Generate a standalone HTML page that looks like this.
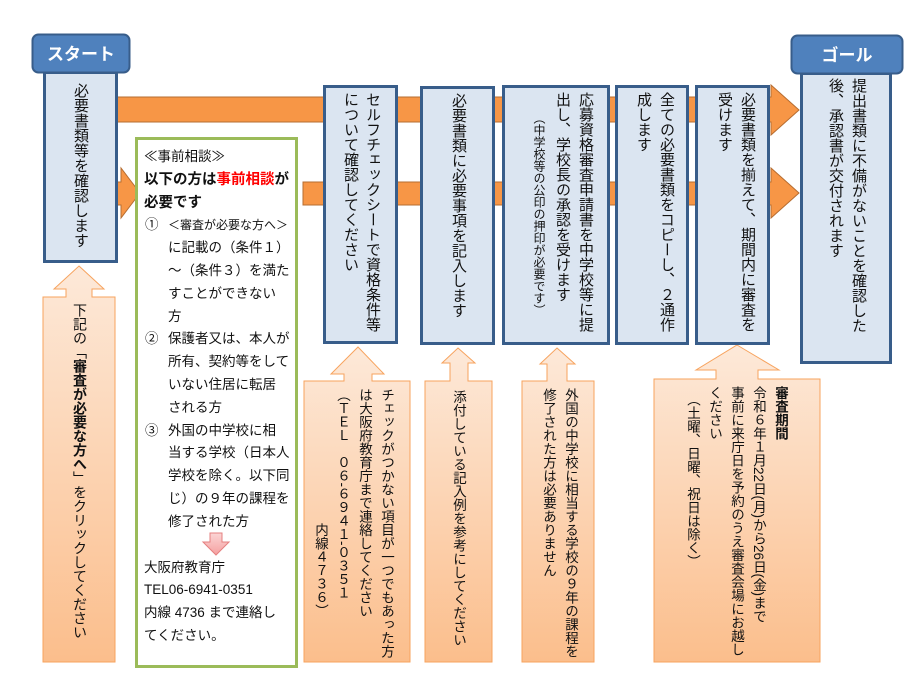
<!DOCTYPE html>
<html><head><meta charset="utf-8"><style>
body{margin:0;width:922px;height:691px;background:#fff;position:relative;overflow:hidden;font-family:"Liberation Sans","Noto Sans CJK JP",sans-serif;color:#111}
.v{position:absolute;writing-mode:vertical-rl;font-size:15px;line-height:22px;white-space:nowrap}
.s{font-size:13.5px;line-height:22px}
.g{position:absolute;left:144px;top:146px;font-size:13.5px;line-height:22.8px;white-space:nowrap}
.g .i{padding-left:24px;position:relative}
.g .n{position:absolute;left:1px}
</style></head><body>
<svg width="922" height="691" style="position:absolute;left:0;top:0">
<defs>
<linearGradient id="og" x1="0" y1="0" x2="0" y2="1"><stop offset="0" stop-color="#fde9d9"/><stop offset="1" stop-color="#fbbe8c"/></linearGradient>
<linearGradient id="pk" x1="0" y1="0" x2="0" y2="1"><stop offset="0" stop-color="#fbd5d5"/><stop offset="1" stop-color="#f5a0a0"/></linearGradient>
</defs>
<polygon points="117,97 771,97 771,85 799,110 771,135 771,122 117,122" fill="#f79646" stroke="#b66d31" stroke-width="1"/>
<polygon points="117,182 121,182 121,168 140,193 121,218 121,205 117,205" fill="#f79646" stroke="#b66d31" stroke-width="1"/>
<polygon points="303,182 771,182 771,168 799,193 771,218 771,205 303,205" fill="#f79646" stroke="#b66d31" stroke-width="1"/>
<polygon points="79,266 104,289 92,289 92,297 115,297 115,662 43,662 43,297 66,297 66,289 54,289" fill="url(#og)" stroke="#f7a35e" stroke-width="1"/>
<polygon points="358,347 384,374 372,374 372,381 410,381 410,662 304,662 304,381 344,381 344,374 331,374" fill="url(#og)" stroke="#f7a35e" stroke-width="1"/>
<polygon points="458,348 475,363 468,363 468,381 492,381 492,662 425,662 425,381 450,381 450,363 442,363" fill="url(#og)" stroke="#f7a35e" stroke-width="1"/>
<polygon points="557,348 575,364 567,364 567,381 594,381 594,662 522,662 522,381 547,381 547,364 540,364" fill="url(#og)" stroke="#f7a35e" stroke-width="1"/>
<polygon points="737,345 779,370 758,370 758,379 820,379 820,662 654,662 654,379 716,379 716,370 696,370" fill="url(#og)" stroke="#f7a35e" stroke-width="1"/>
<rect x="136.5" y="138.5" width="160" height="528" fill="#fff" stroke="#9bbb59" stroke-width="3"/>
<polygon points="210,533 222,533 222,542 229,542 216,555 203,542 210,542" fill="url(#pk)" stroke="#e58080" stroke-width="1"/>
<g fill="#dbe5f1" stroke="#385d8a" stroke-width="3">
<rect x="44.5" y="72.5" width="72" height="189"/>
<rect x="324.5" y="86.5" width="72" height="256"/>
<rect x="421.5" y="87.5" width="72" height="256"/>
<rect x="503.5" y="86.5" width="105" height="257"/>
<rect x="616.5" y="86.5" width="71" height="257"/>
<rect x="696.5" y="86.5" width="72" height="257"/>
<rect x="801.5" y="73.5" width="89" height="289"/>
</g>
<rect x="32.5" y="34.5" width="97" height="38" rx="6" fill="#4f81bd" stroke="#385d8a" stroke-width="2"/>
<rect x="791.5" y="35.5" width="111" height="38" rx="6" fill="#4f81bd" stroke="#385d8a" stroke-width="2"/>
<text x="81" y="60" fill="#fff" font-size="17" font-weight="bold" text-anchor="middle" font-family="Liberation Sans,Noto Sans CJK JP,sans-serif">スタート</text>
<text x="847" y="61" fill="#fff" font-size="17" font-weight="bold" text-anchor="middle" font-family="Liberation Sans,Noto Sans CJK JP,sans-serif">ゴール</text>
</svg>

<div class="v" style="left:69px;top:83px">必要書類等を確認します</div>
<div class="v" style="left:339px;top:92px">セルフチェックシートで資格条件等<br>について確認してください</div>
<div class="v" style="left:447px;top:93px">必要書類に必要事項を記入します</div>
<div class="v" style="left:527px;top:92px;line-height:23px">応募資格審査申請書を中学校等に提<br>出し、学校長の承認を受けます<br><span style="font-size:12px;display:inline-block;margin-top:20px">（中学校等の公印の押印が必要です）</span></div>
<div class="v" style="left:632px;top:92px;line-height:23px">全ての必要書類をコピーし、２通作<br>成します</div>
<div class="v" style="left:713px;top:92px;line-height:23px">必要書類を揃えて、期間内に審査を<br>受けます</div>
<div class="v" style="left:824px;top:78px;line-height:23px">提出書類に不備がないことを確認した<br>後、承認書が交付されます</div>

<div class="v s" style="left:69px;top:303px;font-size:14px">下記の「<b>審査が必要な方へ</b>」をクリックしてください</div>
<div class="v s" style="left:309px;top:388px">チェックがつかない項目が一つでもあった方<br>は大阪府教育庁まで連絡してください<br>（ＴＥＬ　０６-６９４１-０３５１<br>　　　　　　　　　　内線４７３６）</div>
<div class="v s" style="left:447px;top:390px">添付している記入例を参考にしてください</div>
<div class="v s" style="left:537px;top:388px">外国の中学校に相当する学校の９年の課程を<br>修了された方は必要ありません</div>
<div class="v s" style="left:681px;top:386px"><b>審査期間</b><br>令和６年１月22日(月)から26日(金)まで<br>事前に来庁日を予約のうえ審査会場にお越し<br>ください<br>　（土曜、日曜、祝日は除く）</div>

<div class="g">
<div>≪事前相談≫</div>
<div style="font-weight:bold;font-size:14.5px">以下の方は<span style="color:#f00">事前相談</span>が</div>
<div style="font-weight:bold;font-size:14.5px">必要です</div>
<div class="i"><span class="n">①</span><span style="font-size:12px">＜審査が必要な方へ＞</span></div>
<div class="i">に記載の（条件１）</div>
<div class="i">～（条件３）を満た</div>
<div class="i">すことができない</div>
<div class="i">方</div>
<div class="i"><span class="n">②</span>保護者又は、本人が</div>
<div class="i">所有、契約等をして</div>
<div class="i">いない住居に転居</div>
<div class="i">される方</div>
<div class="i"><span class="n">③</span>外国の中学校に相</div>
<div class="i">当する学校（日本人</div>
<div class="i">学校を除く。以下同</div>
<div class="i">じ）の９年の課程を</div>
<div class="i">修了された方</div>
<div style="height:23px"></div>
<div>大阪府教育庁</div>
<div>TEL06-6941-0351</div>
<div>内線 4736 まで連絡し</div>
<div>てください。</div>
</div>
</body></html>
